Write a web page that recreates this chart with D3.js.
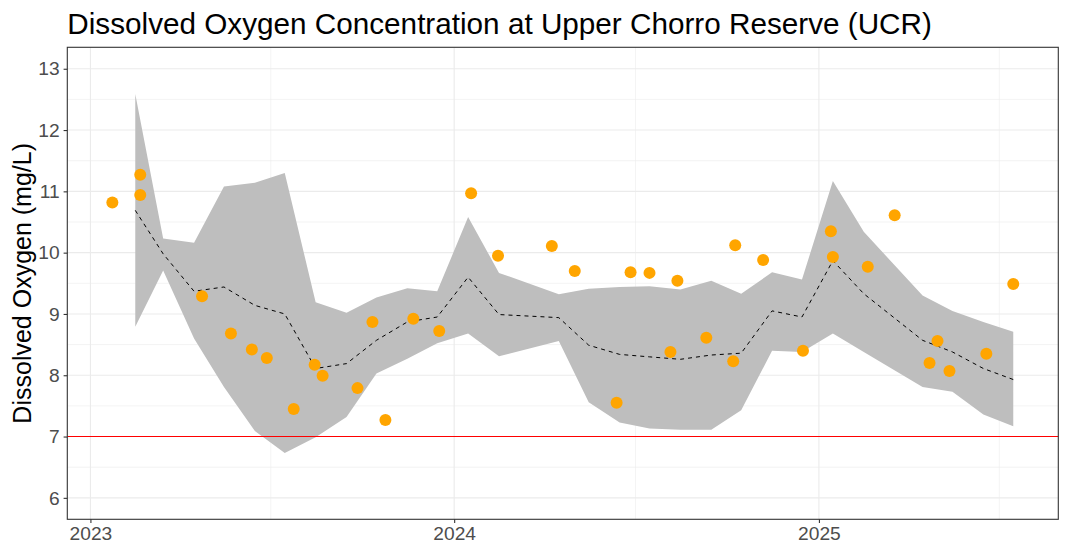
<!DOCTYPE html>
<html>
<head>
<meta charset="utf-8">
<script src="https://cdn.jsdelivr.net/npm/d3@7"></script>
<style>
  body { margin: 0; background: #fff; }
  svg { display: block; font-family: "Liberation Sans", Arial, sans-serif; }
</style>
</head>
<body>
<script>

// sampled points (date, DO in mg/L)
var sampleDates = ["2023-01-23","2023-02-20","2023-02-20","2023-04-23","2023-05-22","2023-06-12",
    "2023-06-27","2023-07-24","2023-08-14","2023-08-22","2023-09-26","2023-10-11","2023-10-24",
    "2023-11-21","2023-12-17","2024-01-18","2024-02-14","2024-04-08","2024-05-01","2024-06-12",
    "2024-06-26","2024-07-15","2024-08-05","2024-08-12","2024-09-10","2024-10-07","2024-10-09",
    "2024-11-06","2024-12-16","2025-01-13","2025-01-15","2025-02-19","2025-03-18","2025-04-22",
    "2025-04-30","2025-05-12","2025-06-18","2025-07-15"];
var sampleDO = [10.82, 11.27, 10.94, 9.29, 8.68, 8.42,
    8.28, 7.45, 8.17, 7.99, 7.79, 8.87, 7.27,
    8.92, 8.72, 10.97, 9.95, 10.11, 9.70, 7.55,
    9.68, 9.67, 8.38, 9.54, 8.61, 8.23, 10.12,
    9.88, 8.40, 10.35, 9.93, 9.77, 10.61, 8.20,
    8.56, 8.07, 8.35, 9.49];

// monthly band: mean +/- sd
var bandDates = ["2023-02-15","2023-03-15","2023-04-15","2023-05-15","2023-06-15","2023-07-15",
    "2023-08-15","2023-09-15","2023-10-15","2023-11-15","2023-12-15","2024-01-15","2024-02-15",
    "2024-04-15","2024-05-15","2024-06-15","2024-07-15","2024-08-15","2024-09-15","2024-10-15",
    "2024-11-15","2024-12-15","2025-01-15","2025-02-15","2025-04-15","2025-05-15","2025-06-15",
    "2025-07-15"];
var bandMean = [10.69, 9.98, 9.37, 9.44, 9.14, 9.00,
    8.11, 8.19, 8.57, 8.87, 8.95, 9.60, 8.99,
    8.94, 8.49, 8.34, 8.30, 8.26, 8.33, 8.36,
    9.05, 8.95, 9.87, 9.33, 8.57, 8.38, 8.11,
    7.93];
var bandLow = [8.79, 9.71, 8.60, 7.81, 7.09, 6.73,
    6.99, 7.32, 8.03, 8.27, 8.52, 8.68, 8.31,
    8.56, 7.56, 7.23, 7.13, 7.11, 7.11, 7.43,
    8.40, 8.38, 8.68, 8.38, 7.81, 7.73, 7.36,
    7.17];
var bandHigh = [12.59, 10.23, 10.16, 11.08, 11.14, 11.30,
    9.19, 9.02, 9.27, 9.42, 9.37, 10.58, 9.67,
    9.32, 9.41, 9.44, 9.45, 9.40, 9.54, 9.33,
    9.68, 9.56, 11.17, 10.34, 9.30, 9.05, 8.87,
    8.71];

var yTicks = [6, 7, 8, 9, 10, 11, 12, 13];
var yMinor = [6.5, 7.5, 8.5, 9.5, 10.5, 11.5, 12.5];
var xTickLabels = ["2023", "2024", "2025"];
var xMinorDates = ["2023-07-01", "2024-07-01", "2025-07-01"];
var threshold = 7;
var yLimits = [6, 13];

var width = 1068, height = 557;
var margin = {top: 47.3, right: 9.7, bottom: 37.7, left: 67.3};
var pw = width - margin.left - margin.right;
var ph = height - margin.top - margin.bottom;

var parse = d3.timeParse("%Y-%m-%d");

var points = sampleDates.map(function(d, i) { return {date: parse(d), value: sampleDO[i]}; });
var band = bandDates.map(function(d, i) {
    return {date: parse(d), mean: bandMean[i], lo: bandLow[i], hi: bandHigh[i]};
});

// ggplot style 5% expansion
var xExt = d3.extent(points, function(d) { return d.date; });
var xPad = (xExt[1] - xExt[0]) * 0.05;
var x = d3.scaleTime()
    .domain([new Date(+xExt[0] - xPad), new Date(+xExt[1] + xPad)])
    .range([0, pw]);

var yPad = (yLimits[1] - yLimits[0]) * 0.05;
var y = d3.scaleLinear()
    .domain([yLimits[0] - yPad, yLimits[1] + yPad])
    .range([ph, 0]);

var svg = d3.select("body")
    .append("svg")
    .attr("width", width)
    .attr("height", height);

var g = svg.append("g")
    .attr("transform", "translate(" + margin.left + "," + margin.top + ")");

// grid lines
var xMajor = xTickLabels.map(function(t) { return parse(t + "-01-01"); });
var xMinor = xMinorDates.map(parse);

g.selectAll(".ygrid-minor").data(yMinor).enter().append("line")
    .attr("x1", 0).attr("x2", pw)
    .attr("y1", function(d) { return y(d); }).attr("y2", function(d) { return y(d); })
    .attr("stroke", "#ebebeb").attr("stroke-width", 0.6);
g.selectAll(".xgrid-minor").data(xMinor).enter().append("line")
    .attr("y1", 0).attr("y2", ph)
    .attr("x1", function(d) { return x(d); }).attr("x2", function(d) { return x(d); })
    .attr("stroke", "#ebebeb").attr("stroke-width", 0.6);
g.selectAll(".ygrid").data(yTicks).enter().append("line")
    .attr("x1", 0).attr("x2", pw)
    .attr("y1", function(d) { return y(d); }).attr("y2", function(d) { return y(d); })
    .attr("stroke", "#ebebeb").attr("stroke-width", 1.1);
g.selectAll(".xgrid").data(xMajor).enter().append("line")
    .attr("y1", 0).attr("y2", ph)
    .attr("x1", function(d) { return x(d); }).attr("x2", function(d) { return x(d); })
    .attr("stroke", "#ebebeb").attr("stroke-width", 1.1);

// sd ribbon
var area = d3.area()
    .x(function(d) { return x(d.date); })
    .y0(function(d) { return y(d.lo); })
    .y1(function(d) { return y(d.hi); });

g.append("path")
    .datum(band)
    .attr("d", area)
    .attr("fill", "#bebebe");

// mean line
var line = d3.line()
    .x(function(d) { return x(d.date); })
    .y(function(d) { return y(d.mean); });

g.append("path")
    .datum(band)
    .attr("d", line)
    .attr("fill", "none")
    .attr("stroke", "#000")
    .attr("stroke-width", 1)
    .attr("stroke-dasharray", "4,4");

// threshold
g.append("line")
    .attr("x1", 0).attr("x2", pw)
    .attr("y1", y(threshold)).attr("y2", y(threshold))
    .attr("stroke", "red")
    .attr("stroke-width", 1.1);

// samples
g.selectAll("circle")
    .data(points)
    .enter()
    .append("circle")
    .attr("cx", function(d) { return x(d.date); })
    .attr("cy", function(d) { return y(d.value); })
    .attr("r", 6)
    .style("fill", "orange");

// axes
var yAxis = d3.axisLeft(y).tickValues(yTicks).tickSize(3.7).tickPadding(4);
var xAxis = d3.axisBottom(x).tickValues(xMajor).tickSize(3.7).tickPadding(3)
    .tickFormat(d3.timeFormat("%Y"));

var ya = g.append("g").call(yAxis);
var xa = g.append("g").attr("transform", "translate(0," + ph + ")").call(xAxis);

[ya, xa].forEach(function(a) {
    a.select(".domain").remove();
    a.selectAll(".tick line").attr("stroke", "#333333").attr("stroke-width", 1.1);
    a.selectAll(".tick text")
        .attr("fill", "#4d4d4d")
        .style("font-size", "19.2px")
        .style("font-family", "'Liberation Sans', Arial, sans-serif");
});

// panel border
g.append("rect")
    .attr("x", 0).attr("y", 0)
    .attr("width", pw).attr("height", ph)
    .attr("fill", "none")
    .attr("stroke", "#333333")
    .attr("stroke-width", 1.1);

// titles
svg.append("text")
    .attr("x", margin.left)
    .attr("y", 34)
    .style("font-size", "29.7px")
    .attr("fill", "#000")
    .text("Dissolved Oxygen Concentration at Upper Chorro Reserve (UCR)");

svg.append("text")
    .attr("transform", "translate(30.5," + (margin.top + ph / 2) + ") rotate(-90)")
    .attr("text-anchor", "middle")
    .style("font-size", "25px")
    .attr("fill", "#000")
    .text("Dissolved Oxygen (mg/L)");

</script>
</body>
</html>
